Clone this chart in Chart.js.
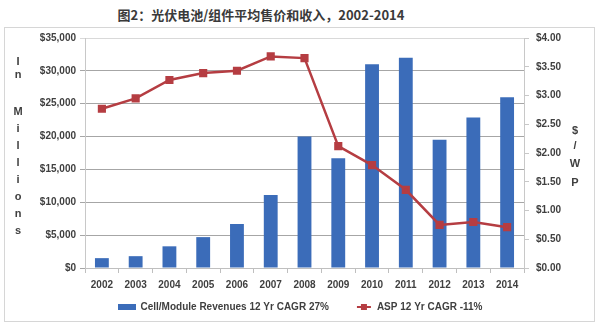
<!DOCTYPE html>
<html>
<head>
<meta charset="utf-8">
<script src="https://cdn.jsdelivr.net/npm/chart.js@4/dist/chart.umd.min.js"></script>
<style>
  html, body { margin: 0; padding: 0; background: #fff; }
  #wrap { position: relative; width: 600px; height: 333px; }
  #title {
    position: absolute; left: 0; top: 5px; width: 522px; text-align: center;
    font: bold 13px "Noto Sans CJK SC", sans-serif; color: #3a3a3a;
  }
  #frame {
    position: absolute; left: 4px; top: 27px; width: 591px; height: 295px;
    border: 1px solid #d6d6d6; box-sizing: border-box;
  }
  canvas { position: absolute; left: 0; top: 0; }
</style>
</head>
<body>
<div id="wrap">
  <div id="title">图2：光伏电池/组件平均售价和收入，2002-2014</div>
  <div id="frame"></div>
  <canvas id="pvChart" width="600" height="333"></canvas>
</div>
<script>
// Years on the category axis
const years = ['2002', '2003', '2004', '2005', '2006', '2007', '2008',
               '2009', '2010', '2011', '2012', '2013', '2014'];

// Cell/module revenues, $ millions
const revenues = [1500, 1800, 3300, 4700, 6700, 11100, 20000,
                  16700, 31000, 32000, 19500, 22900, 26000];

// Average selling price, $/Wp
const asp = [2.77, 2.95, 3.27, 3.39, 3.43, 3.68, 3.65,
             2.12, 1.79, 1.36, 0.75, 0.80, 0.71];

const revenueLabel = 'Cell/Module Revenues 12 Yr CAGR 27%';
const aspLabel = 'ASP 12 Yr CAGR -11%';

const leftTitle = ['I', 'n', '', 'M', 'i', 'l', 'l', 'i', 'o', 'n', 's'];
const rightTitle = ['$', '/', 'W', 'P'];

const BLUE = '#3b6cb9';
const RED = '#b53d42';
const TEXT = '#404040';
const FONT = 'Liberation Sans, Arial, sans-serif';

// Legend swatches: wide blue block and a short line with a square marker
function makeSwatch(kind) {
    const c = document.createElement('canvas');
    c.width = 18; c.height = 8;
    const g = c.getContext('2d');
    if (kind === 'bar') {
        g.fillStyle = BLUE;
        g.fillRect(0, 1, 18, 6);
    } else {
        g.strokeStyle = RED;
        g.lineWidth = 2;
        g.beginPath(); g.moveTo(3, 4); g.lineTo(17, 4); g.stroke();
        g.fillStyle = RED;
        g.fillRect(7, 1, 6, 6);
    }
    return c;
}
const barSwatch = makeSwatch('bar');
const lineSwatch = makeSwatch('line');

// Vertical stacked-letter axis titles
const stackedTitles = {
    id: 'stackedTitles',
    afterDraw(chart) {
        const ctx = chart.ctx;
        ctx.save();
        ctx.fillStyle = TEXT;
        ctx.font = 'bold 11px ' + FONT;
        ctx.textAlign = 'center';
        ctx.textBaseline = 'middle';
        const leftY = [62, 75, 0, 112, 129, 146, 163, 180, 197, 214, 231];
        leftTitle.forEach((ch, i) => { if (ch) ctx.fillText(ch, 18, leftY[i]); });
        const rightY = [131, 146, 164, 183];
        rightTitle.forEach((ch, i) => ctx.fillText(ch, 575, rightY[i]));
        ctx.restore();
    }
};

new Chart(document.getElementById('pvChart'), {
    data: {
        labels: years,
        datasets: [
            {
                type: 'bar',
                label: revenueLabel,
                data: revenues,
                yAxisID: 'yRev',
                backgroundColor: BLUE,
                barPercentage: 0.41,
                categoryPercentage: 1,
                order: 2
            },
            {
                type: 'line',
                label: aspLabel,
                data: asp,
                yAxisID: 'yPrice',
                borderColor: RED,
                backgroundColor: RED,
                borderWidth: 2.5,
                pointStyle: 'rect',
                pointRadius: 4,
                pointBackgroundColor: RED,
                pointBorderColor: RED,
                tension: 0,
                order: 1
            }
        ]
    },
    options: {
        responsive: false,
        animation: false,
        layout: { padding: { top: 38, left: 0, right: 0, bottom: 11 } },
        plugins: {
            title: { display: false },
            tooltip: { enabled: false },
            legend: {
                position: 'bottom',
                labels: {
                    usePointStyle: true,
                    pointStyleWidth: 18,
                    padding: 10,
                    color: TEXT,
                    font: { family: FONT, size: 10, weight: 'bold' },
                    generateLabels(chart) {
                        return chart.data.datasets.map((ds, i) => ({
                            // en-spaces widen the gap before the next entry
                            text: ds.label + (i === 0 ? '\u2002\u2002\u2002' : ''),
                            pointStyle: ds.type === 'bar' ? barSwatch : lineSwatch,
                            fillStyle: ds.backgroundColor,
                            strokeStyle: ds.borderColor,
                            lineWidth: 0,
                            fontColor: TEXT,
                            datasetIndex: i,
                            hidden: false
                        }));
                    }
                }
            }
        },
        scales: {
            x: {
                offset: true,
                grid: {
                    offset: true,
                    drawOnChartArea: false,
                    color: '#bfbfbf',
                    tickLength: 5
                },
                border: { color: '#bfbfbf' },
                ticks: {
                    color: TEXT,
                    padding: 6,
                    maxRotation: 0,
                    font: { family: FONT, size: 10, weight: 'bold' }
                },
                afterFit(scale) { scale.height = 24; }
            },
            yRev: {
                position: 'left',
                min: 0,
                max: 35000,
                ticks: {
                    stepSize: 5000,
                    color: TEXT,
                    padding: 4,
                    font: { family: FONT, size: 10, weight: 'bold' },
                    callback: v => '$' + v.toLocaleString('en-US')
                },
                grid: {
                    color: ctx => ctx.index === 7 ? '#d9d9d9' : '#a6a6a6',
                    tickLength: 5
                },
                border: { color: '#c8c8c8' },
                afterFit(scale) { scale.width = 85; }
            },
            yPrice: {
                position: 'right',
                min: 0,
                max: 4,
                ticks: {
                    stepSize: 0.5,
                    color: TEXT,
                    padding: 7,
                    font: { family: FONT, size: 10, weight: 'bold' },
                    callback: v => '$' + v.toFixed(2)
                },
                grid: {
                    drawOnChartArea: false,
                    color: '#c8c8c8',
                    tickLength: 5
                },
                border: { color: '#c8c8c8' },
                afterFit(scale) { scale.width = 76; }
            }
        }
    },
    plugins: [stackedTitles]
});
</script>
</body>
</html>
